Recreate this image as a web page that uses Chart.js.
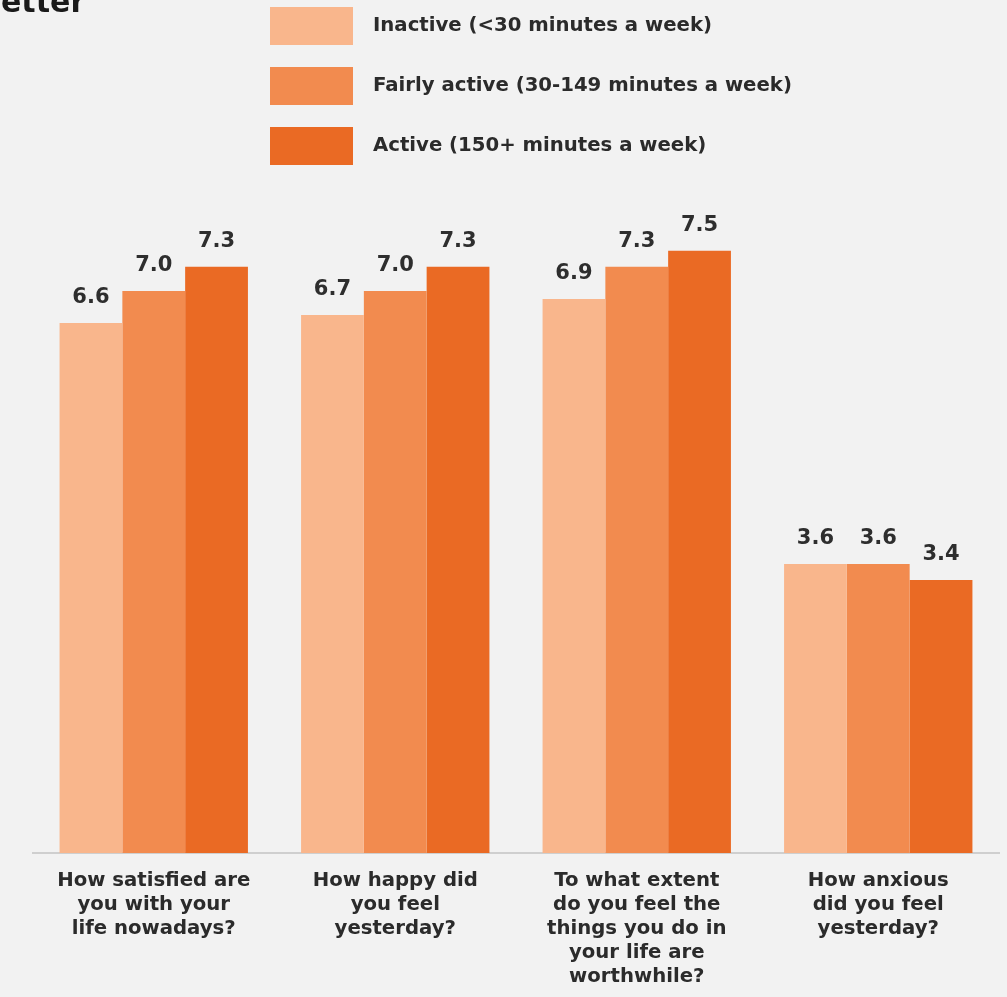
<!DOCTYPE html>
<html>
<head>
<meta charset="utf-8">
<script src="https://cdn.jsdelivr.net/npm/chart.js@4.4.1/dist/chart.umd.min.js"></script>
<style>
  html, body { margin: 0; padding: 0; background: #f2f2f2; }
  #wrap { position: relative; width: 1007px; height: 997px; }
</style>
</head>
<body>
<div id="wrap"><canvas id="c" width="1007" height="997"></canvas></div>
<script>
const categories = [
  ["How satisfied are", "you with your", "life nowadays?"],
  ["How happy did", "you feel", "yesterday?"],
  ["To what extent", "do you feel the", "things you do in", "your life are", "worthwhile?"],
  ["How anxious", "did you feel", "yesterday?"]
];
const seriesNames = [
  "Inactive (<30 minutes a week)",
  "Fairly active (30-149 minutes a week)",
  "Active (150+ minutes a week)"
];
const inactive = [6.6, 6.7, 6.9, 3.6];
const fairlyActive = [7.0, 7.0, 7.3, 3.6];
const active = [7.3, 7.3, 7.5, 3.4];
const colors = ["#f9b68c", "#f28b4f", "#ea6a24"];
const titleFragment = "better";

const FONT = "'DejaVu Sans', sans-serif";

const overlay = {
  id: 'overlay',
  afterDatasetsDraw(chart) {
    const ctx = chart.ctx;
    ctx.save();
    // value labels
    ctx.fillStyle = '#2e2e2e';
    ctx.font = "700 21px " + FONT;
    ctx.textAlign = 'center';
    ctx.textBaseline = 'alphabetic';
    chart.data.datasets.forEach((ds, i) => {
      const meta = chart.getDatasetMeta(i);
      meta.data.forEach((bar, j) => {
        ctx.fillText(ds.data[j].toFixed(1), bar.x, bar.y - 20);
      });
    });
    // legend
    chart.data.datasets.forEach((ds, i) => {
      const y = 7 + i * 60;
      ctx.fillStyle = ds.backgroundColor;
      ctx.fillRect(270, y, 83, 38);
      ctx.fillStyle = '#2b2b2b';
      ctx.font = "700 19.7px " + FONT;
      ctx.textAlign = 'left';
      ctx.textBaseline = 'middle';
      ctx.fillText(ds.label, 373, y + 19);
    });
    // cropped title fragment
    ctx.font = "700 30px " + FONT;
    ctx.textAlign = 'left';
    ctx.textBaseline = 'alphabetic';
    ctx.fillStyle = '#1a1a1a';
    const bw = ctx.measureText(titleFragment[0]).width;
    ctx.fillText(titleFragment, -bw + 1, 12);
    ctx.restore();
  }
};

new Chart(document.getElementById('c'), {
  type: 'bar',
  data: {
    labels: categories,
    datasets: [
      { label: seriesNames[0], data: inactive, backgroundColor: colors[0] },
      { label: seriesNames[1], data: fairlyActive, backgroundColor: colors[1] },
      { label: seriesNames[2], data: active, backgroundColor: colors[2] }
    ]
  },
  options: {
    responsive: false,
    animation: false,
    devicePixelRatio: 1,
    layout: { padding: { top: 50, left: 33, right: 8, bottom: 0 } },
    datasets: { bar: { barPercentage: 1.0, categoryPercentage: 0.78, borderWidth: 0 } },
    plugins: { legend: { display: false }, tooltip: { enabled: false }, title: { display: false } },
    scales: {
      y: { display: false, min: 0, max: 10 },
      x: {
        grid: { display: false, drawTicks: false },
        border: { display: true, color: '#cfcfcf', width: 2 },
        ticks: {
          color: '#2b2b2b',
          font: { family: FONT, size: 19.7, weight: '700', lineHeight: 1.22 },
          padding: 16,
          maxRotation: 0,
          autoSkip: false
        },
        afterFit(scale) { scale.height = 144; }
      }
    }
  },
  plugins: [overlay]
});
</script>
</body>
</html>
